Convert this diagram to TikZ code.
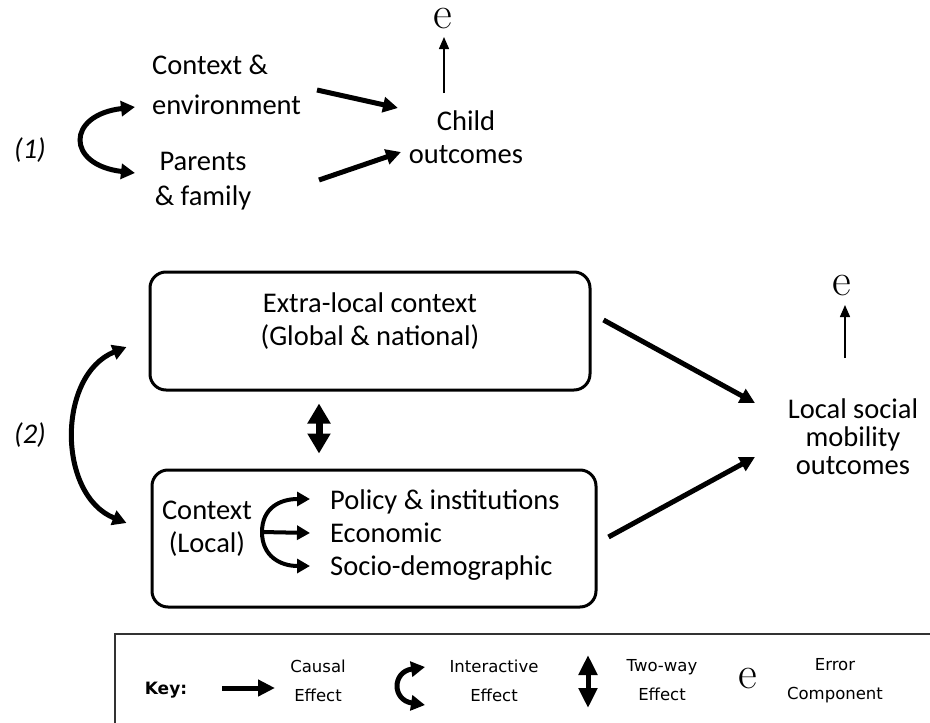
\documentclass[tikz,border=0pt]{standalone}
\usepackage{fontspec}
\newfontfamily\calf{Carlito}
\newfontfamily\dvs{DejaVu Sans}
\usetikzlibrary{arrows.meta,calc}
\tikzset{
  lbl/.style={inner sep=0pt, align=center, font=\calf\fontsize{28.5}{#1}\selectfont},
  lbl/.default=33,
  num/.style={inner sep=0pt, font=\calf\itshape\fontsize{28.5}{28.5}\selectfont},
  causal/.style={line width=5pt, -{Triangle[length=15pt,width=15pt]}},
  branch/.style={line width=4pt, -{Triangle[length=13pt,width=14pt]}},
  inter/.style={line width=5pt, {Triangle[length=14pt,width=15pt]}-{Triangle[length=14pt,width=15pt]}},
  twoway/.style={line width=7pt, {Triangle[length=20pt,width=22pt]}-{Triangle[length=20pt,width=22pt]}},
  errarrow/.style={line width=1.4pt, -{Triangle[length=12pt,width=10pt]}},
  roundbox/.style={draw, line width=3pt, rounded corners=16pt, inner sep=0pt},
  errsym/.style={inner sep=0pt, font=\rmfamily\fontsize{46}{46}\selectfont},
  keytxt/.style={inner sep=0pt, align=center, font=\dvs\fontsize{16.5}{29}\selectfont},
}
\begin{document}
\begin{tikzpicture}[x=1pt,y=-1pt]
\useasboundingbox (0,0) rectangle (930,723);
\clip (0,0) rectangle (930,723);

% ---------- part (1)
\node[num] (n1) at (30,150) {(1)};
\node[lbl=40, align=left, anchor=west] (ctx) at (152,85) {Context \&\\environment};
\node[lbl=35] (par) at (203,181) {Parents\\\& family};
\node[lbl=33] (child) at (466,137) {Child\\outcomes};
\node[errsym] (e1) at (443,19) {e};

\draw[causal] ([shift={(165,5)}]ctx.west) -- ([shift={(-68,-29)}]child.center);
\draw[causal] ([shift={(116,-1)}]par.center) -- ([shift={(-65,15)}]child.center);
\draw[inter] ([shift={(-17,22)}]ctx.west) .. controls (66,115) and (66,165) .. ([shift={(-68,-8)}]par.center);
\draw[errarrow] ([shift={(-22,-44)}]child.center) -- ([shift={(1,18)}]e1.center);

% ---------- part (2)
\node[num] (n2) at (30,435) {(2)};
\node[roundbox, minimum width=440pt, minimum height=118pt] (extra) at (370,331) {};
\node[lbl=33] (extraT) at (370,321.5) {Extra-local context\\(Global \& national)};
\node[roundbox, minimum width=444pt, minimum height=137pt] (local) at (374,538.5) {};
\node[lbl=33] (ctxL) at (207,529) {Context\\(Local)};
\node[lbl=33, align=left, anchor=west] (items) at (330,535) {Policy \& institutions\\Economic\\Socio-demographic};
\node[lbl=28] (lsm) at (853,437) {Local social\\mobility\\outcomes};
\node[errsym] (e2) at (842,286) {e};

\draw[branch] ([shift={(55,3)}]ctxL.center) .. controls (262,508) and (280,499) .. ([shift={(-20,-36)}]items.west);
\draw[branch] ([shift={(55,3)}]ctxL.center) -- ([shift={(-20,-2)}]items.west);
\draw[branch] ([shift={(55,3)}]ctxL.center) .. controls (262,556) and (280,566) .. ([shift={(-20,31)}]items.west);

\draw[twoway] ([shift={(-51,12)}]extra.south) -- ([shift={(-55,-15)}]local.north);
\draw[inter] ([shift={(-22,16)}]extra.west) .. controls (57,375) and (57,495) .. ([shift={(-24,-15.5)}]local.west);
\draw[causal] ([shift={(12,-11)}]extra.east) -- ([shift={(-98,-34)}]lsm.center);
\draw[causal] ([shift={(11,-1.5)}]local.east) -- ([shift={(-98,20)}]lsm.center);
\draw[errarrow] ([shift={(-8,-79)}]lsm.center) -- ([shift={(3,19)}]e2.center);

% ---------- key
\draw[line width=1.5pt, black!80] (115,634) rectangle (950,760);
\node[inner sep=0pt, font=\dvs\bfseries\fontsize{17}{17}\selectfont] (keyl) at (166,690) {Key:};
\node[keytxt] (cl) at (318,680.5) {Causal\\Effect};
\node[keytxt] (il) at (494,680.5) {Interactive\\Effect};
\node[keytxt] (tl) at (662,680.5) {Two-way\\Effect};
\node[keytxt] (el) at (835,680.5) {Error\\Component};
\node[errsym] (ek) at (748,679) {e};

\draw[line width=5pt, -{Triangle[length=17pt,width=16pt]}] ([shift={(56,-2)}]keyl.center) -- ([shift={(-43,7.5)}]cl.center);
\draw[inter] ([shift={(-69,-13.5)}]il.center) .. controls (392,672) and (392,700) .. ([shift={(-69,24.5)}]il.center);
\draw[line width=5pt, {Triangle[length=20pt,width=18pt]}-{Triangle[length=20pt,width=18pt]}] ([shift={(-74,-25.5)}]tl.center) -- ([shift={(-74,27.5)}]tl.center);
\end{tikzpicture}
\end{document}
